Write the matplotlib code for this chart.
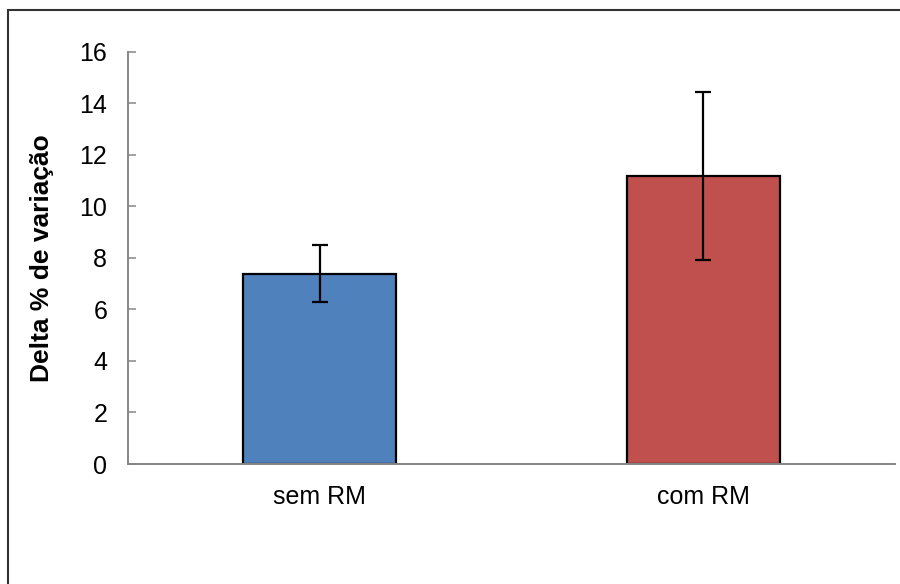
import matplotlib
matplotlib.use("Agg")
import matplotlib.pyplot as plt
from matplotlib.patches import Rectangle

categories = ["sem RM", "com RM"]
means = [7.38, 11.18]
errors = [1.1, 3.27]
colors = ["#4F81BD", "#C0504D"]
yticks = [0, 2, 4, 6, 8, 10, 12, 14, 16]

plt.rcParams["font.family"] = ["Liberation Sans", "DejaVu Sans"]

fig = plt.figure(figsize=(9, 5.84), dpi=100)
ax = fig.add_axes([128 / 900, 1 - 464 / 584, 767 / 900, (464 - 51.7) / 584])

x = range(len(categories))
ax.bar(x, means, width=0.40, color=colors, edgecolor="black", linewidth=1.6, zorder=2)
ax.errorbar(x, means, yerr=errors, fmt="none", ecolor="black", elinewidth=1.6,
            capsize=5.6, capthick=1.6, zorder=3)

ax.set_xlim(-0.5, 1.5)
ax.set_ylim(0, 16)
ax.set_yticks(yticks)
ax.set_xticks(list(x))
ax.set_xticklabels(categories)
ax.tick_params(axis="y", direction="in", length=6, width=1.1, color="#868686",
               labelsize=18, pad=15)
ax.tick_params(axis="x", length=0, labelsize=18, pad=15)

for s in ["top", "right"]:
    ax.spines[s].set_visible(False)
for s in ["left", "bottom"]:
    ax.spines[s].set_color("#868686")
    ax.spines[s].set_linewidth(1.4)

ax.set_ylabel("Delta % de variação", fontsize=19, fontweight="bold", labelpad=18)

# outer chart frame (bottom and right edges fall outside the picture)
fig.patches.append(Rectangle((8 / 900, -0.1), 1.0, 1.1 - 10 / 584,
                             transform=fig.transFigure, fill=False,
                             edgecolor="#333333", linewidth=1.5))

fig.savefig("out.png", dpi=100)
